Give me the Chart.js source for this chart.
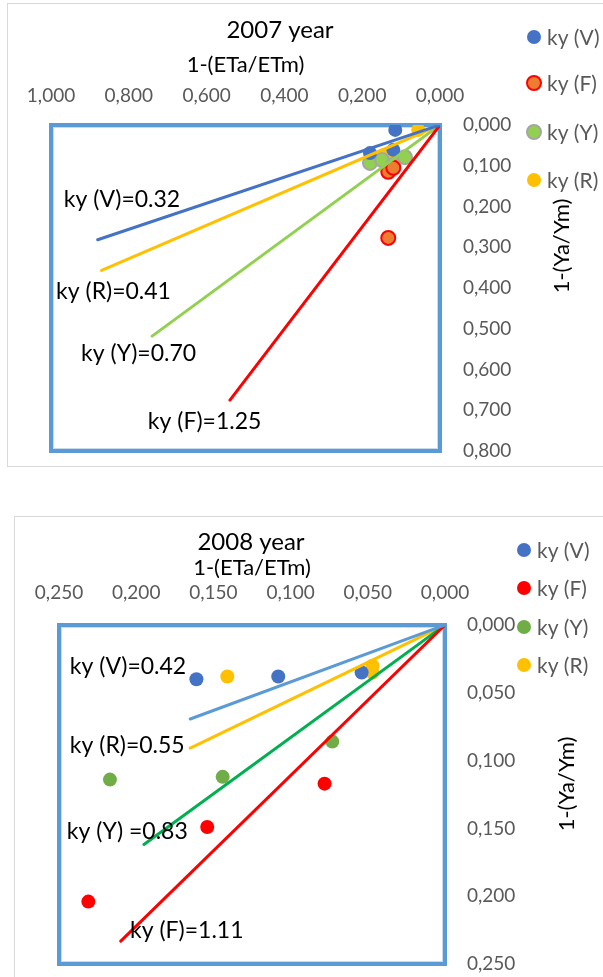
<!DOCTYPE html>
<html>
<head>
<meta charset="utf-8">
<script src="https://cdn.jsdelivr.net/npm/chart.js@4.4.1/dist/chart.umd.min.js"></script>
<style>
  body { margin: 0; background: #fff; overflow: hidden; width: 603px; height: 977px; position: relative; }
  .frame { position: absolute; border: 1px solid #d9d9d9; background: #fff; }
  #frame07 { left: 7px; top: 3px; width: 640px; height: 462px; }
  #frame08 { left: 14px; top: 516px; width: 640px; height: 500px; }
  canvas { display: block; }
</style>
</head>
<body>
<div class="frame" id="frame07"><canvas id="chart07" width="596" height="462"></canvas></div>
<div class="frame" id="frame08"><canvas id="chart08" width="588" height="460"></canvas></div>
<script>
// series order: V, F, Y, R
const seriesNames = ['ky (V)', 'ky (F)', 'ky (Y)', 'ky (R)'];

// ---- 2007 ----
const ky2007 = [0.32, 1.25, 0.70, 0.41];
const lineEnd2007 = [0.88, 0.54, 0.74, 0.87];
const v2007 = [{x: 0.115, y: 0.012}, {x: 0.12, y: 0.061}, {x: 0.18, y: 0.069}];
const f2007 = [{x: 0.133, y: 0.115}, {x: 0.12, y: 0.105}, {x: 0.133, y: 0.277}];
const y2007 = [{x: 0.18, y: 0.093}, {x: 0.149, y: 0.086}, {x: 0.12, y: 0.098}, {x: 0.09, y: 0.079}];
const r2007 = [{x: 0.056, y: 0.012}, {x: 0.12, y: 0.066}, {x: 0.146, y: 0.074}];
const xTicks2007 = [0, 0.2, 0.4, 0.6, 0.8, 1.0];
const yTicks2007 = [0, 0.1, 0.2, 0.3, 0.4, 0.5, 0.6, 0.7, 0.8];
const notePrefix2007 = ['ky (V)=', 'ky (F)=', 'ky (Y)=', 'ky (R)='];

// ---- 2008 ----
const ky2008 = [0.42, 1.11, 0.83, 0.55];
const lineEnd2008 = [0.165, 0.21, 0.195, 0.165];
const v2008 = [{x: 0.161, y: 0.040}, {x: 0.108, y: 0.038}, {x: 0.054, y: 0.035}];
const f2008 = [{x: 0.231, y: 0.204}, {x: 0.154, y: 0.149}, {x: 0.078, y: 0.117}];
const y2008 = [{x: 0.217, y: 0.114}, {x: 0.144, y: 0.112}, {x: 0.073, y: 0.086}];
const r2008 = [{x: 0.141, y: 0.038}, {x: 0.047, y: 0.030}, {x: 0.047, y: 0.035}];
const xTicks2008 = [0, 0.05, 0.10, 0.15, 0.20, 0.25];
const yTicks2008 = [0, 0.05, 0.10, 0.15, 0.20, 0.25];
const notePrefix2008 = ['ky (V)=', 'ky (F)=', 'ky (Y) =', 'ky (R)='];

const FONT = 'Lato, "Open Sans", sans-serif';
const fmt = v => v.toFixed(3).replace('.', ',');

// box around the plot area, slope labels, rotated y title and the legend
const decor = {
  id: 'decor',
  beforeDatasetsDraw(chart, args, o) {
    const {ctx, chartArea: a} = chart;
    ctx.save();
    ctx.strokeStyle = '#5b9bd5';
    ctx.lineWidth = 4;
    ctx.strokeRect(a.left, a.top, a.right - a.left, a.bottom - a.top);
    ctx.strokeStyle = '#c9dcef';
    ctx.lineWidth = 1;
    ctx.strokeRect(a.left + 2.5, a.top + 2.5, a.right - a.left - 5, a.bottom - a.top - 5);
    ctx.restore();
  },
  afterDraw(chart, args, o) {
    const {ctx} = chart;
    const sx = chart.scales.x, sy = chart.scales.y;
    ctx.save();
    ctx.textBaseline = 'middle';
    ctx.textAlign = 'center';
    ctx.fillStyle = '#000';
    ctx.font = '24px ' + FONT;
    ctx.fillText(o.title, o.titleAt[0], o.titleAt[1]);

    ctx.save();
    ctx.translate(o.yTitleAt[0], o.yTitleAt[1]);
    ctx.rotate(-Math.PI / 2);
    ctx.font = '22px ' + FONT;
    ctx.fillText('1-(Ya/Ym)', 0, 0);
    ctx.restore();

    ctx.textAlign = 'left';
    ctx.font = '23px ' + FONT;
    o.notes.forEach(n => {
      ctx.fillText(n.text, sx.getPixelForValue(n.x), sy.getPixelForValue(n.y));
    });

    ctx.font = '21px ' + FONT;
    chart.data.datasets.filter(d => !d.showLine).forEach((d, i) => {
      const cy = o.legendY[i];
      ctx.beginPath();
      ctx.arc(o.legendX, cy, 7, 0, Math.PI * 2);
      ctx.fillStyle = d.backgroundColor;
      ctx.fill();
      if (d.borderWidth) {
        ctx.lineWidth = d.borderWidth;
        ctx.strokeStyle = d.borderColor;
        ctx.stroke();
      }
      ctx.fillStyle = '#595959';
      ctx.fillText(d.label, o.legendX + 13, cy + 1);
    });
    ctx.restore();
  }
};

function makeChart(id, c) {
  const lines = c.ky.map((k, i) => ({
    label: seriesNames[i] + ' fit',
    data: [{x: 0, y: 0}, {x: c.lineEnd[i], y: k * c.lineEnd[i]}],
    showLine: true,
    borderColor: c.lineColors[i],
    borderWidth: 3,
    borderCapStyle: 'round',
    pointRadius: 0,
    order: 0
  }));
  const points = c.points.map((p, i) => ({
    label: seriesNames[i],
    data: p,
    backgroundColor: c.pointFill[i],
    borderColor: c.pointEdge[i],
    borderWidth: c.pointEdge[i] === c.pointFill[i] ? 0 : 2,
    pointRadius: 7,
    order: 1
  }));
  const notes = c.ky.map((k, i) => ({
    text: c.notePrefix[i] + k.toFixed(2), x: c.noteAt[i][0], y: c.noteAt[i][1]
  }));

  new Chart(document.getElementById(id), {
    type: 'scatter',
    data: {datasets: [...lines, ...points]},
    options: {
      responsive: false,
      animation: false,
      layout: {padding: c.padding},
      plugins: {
        legend: {display: false},
        tooltip: {enabled: false},
        decor: {
          title: c.title, titleAt: c.titleAt, yTitleAt: c.yTitleAt,
          legendX: c.legendX, legendY: c.legendY, notes: notes
        }
      },
      scales: {
        x: {
          type: 'linear', position: 'top', reverse: true, min: 0, max: c.xTicks[c.xTicks.length - 1],
          grid: {display: false, drawTicks: false},
          border: {display: false},
          ticks: {
            padding: c.xTickPad, color: '#595959', autoSkip: false, maxRotation: 0,
            font: {family: FONT, size: 19}, callback: v => fmt(v)
          },
          afterBuildTicks: s => { s.ticks = c.xTicks.map(v => ({value: v})); },
          afterFit: s => { s.height = c.xHeight; s.paddingLeft = 0; s.paddingRight = 0; },
          title: {
            display: true, text: '1-(ETa/ETm)', color: '#000',
            font: {family: FONT, size: 22}, padding: {top: 18, bottom: 0}
          }
        },
        y: {
          type: 'linear', position: 'right', reverse: true, min: 0, max: c.yTicks[c.yTicks.length - 1],
          grid: {display: false, drawTicks: false},
          border: {display: false},
          ticks: {
            padding: c.yTickPad, color: '#595959', autoSkip: false,
            font: {family: FONT, size: 19}, callback: v => fmt(v)
          },
          afterBuildTicks: s => { s.ticks = c.yTicks.map(v => ({value: v})); },
          afterFit: s => { s.width = c.yWidth; s.paddingTop = 0; s.paddingBottom = 0; }
        }
      }
    },
    plugins: [decor]
  });
}

makeChart('chart07', {
  title: '2007 year',
  ky: ky2007, lineEnd: lineEnd2007,
  points: [v2007, f2007, y2007, r2007],
  lineColors: ['#4472c4', '#ff0000', '#92d050', '#ffc000'],
  pointFill: ['#4472c4', '#ed7d31', '#92d050', '#ffc000'],
  pointEdge: ['#4472c4', '#ff0000', '#a5a5a5', '#ffc000'],
  notePrefix: notePrefix2007,
  noteAt: [[0.967, 0.184], [0.751, 0.729], [0.923, 0.560], [0.987, 0.410]],
  xTicks: xTicks2007, yTicks: yTicks2007,
  padding: {left: 43, top: 30, right: 0, bottom: 15},
  xHeight: 91, xTickPad: 18, yWidth: 164, yTickPad: 23,
  titleAt: [272, 26], yTitleAt: [554, 242],
  legendX: 526, legendY: [33, 79, 128, 176]
});

makeChart('chart08', {
  title: '2008 year',
  ky: ky2008, lineEnd: lineEnd2008,
  points: [v2008, f2008, y2008, r2008],
  lineColors: ['#5b9bd5', '#ff0000', '#00b050', '#ffc000'],
  pointFill: ['#4472c4', '#ff0000', '#70ad47', '#ffc000'],
  pointEdge: ['#4472c4', '#ff0000', '#70ad47', '#ffc000'],
  notePrefix: notePrefix2008,
  noteAt: [[0.243, 0.031], [0.204, 0.225], [0.245, 0.152], [0.243, 0.089]],
  xTicks: xTicks2008, yTicks: yTicks2008,
  padding: {left: 44, top: 20, right: 0, bottom: 13},
  xHeight: 88, xTickPad: 21, yWidth: 158, yTickPad: 22,
  titleAt: [236, 25], yTitleAt: [552, 267],
  legendX: 509, legendY: [33, 71, 110, 148]
});
</script>
</body>
</html>
